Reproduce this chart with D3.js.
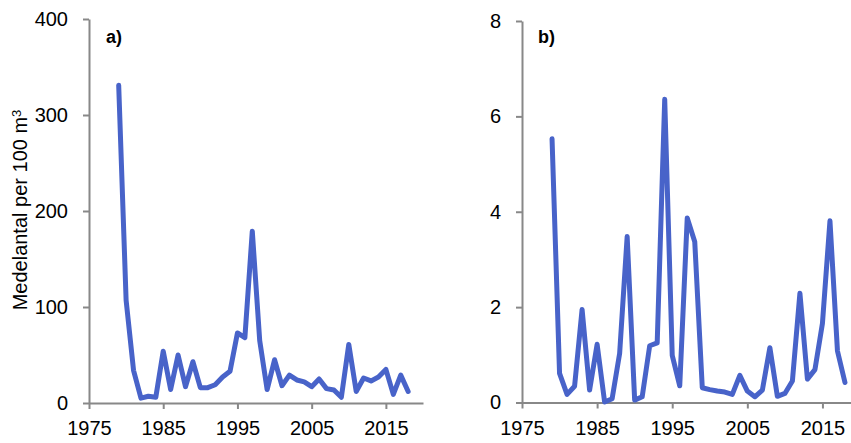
<!DOCTYPE html>
<html>
<head>
<meta charset="utf-8">
<script src="https://cdn.jsdelivr.net/npm/d3@7"></script>
<style>
  html, body { margin: 0; padding: 0; background: #ffffff; }
  svg { display: block; }
  text { font-family: "Liberation Sans", Arial, sans-serif; fill: #000; }
</style>
</head>
<body>
<svg id="chart" width="851" height="443"></svg>
<script>
// Years of observation (shared by both panels)
const years = [
  1979, 1980, 1981, 1982, 1983, 1984, 1985, 1986, 1987, 1988,
  1989, 1990, 1991, 1992, 1993, 1994, 1995, 1996, 1997, 1998,
  1999, 2000, 2001, 2002, 2003, 2004, 2005, 2006, 2007, 2008,
  2009, 2010, 2011, 2012, 2013, 2014, 2015, 2016, 2017, 2018
];

// Panel a) mean count per 100 m³
const seriesA = [
  331, 107, 34, 5, 7, 6, 54, 14, 50, 17,
  43, 16, 16, 19, 27, 33, 73, 68, 179, 65,
  14, 45, 18, 29, 24, 22, 17, 25, 15, 13.5,
  6, 61, 12, 26, 23, 27, 35, 9, 29, 12
];

// Panel b) mean count per 100 m³
const seriesB = [
  5.53, 0.61, 0.17, 0.34, 1.95, 0.26, 1.22, 0.01, 0.08, 1.03,
  3.48, 0.05, 0.12, 1.19, 1.25, 6.36, 0.99, 0.35, 3.87, 3.37,
  0.31, 0.27, 0.24, 0.22, 0.17, 0.57, 0.24, 0.12, 0.26, 1.15,
  0.13, 0.19, 0.45, 2.29, 0.49, 0.69, 1.66, 3.81, 1.08, 0.42
];

const xTicks = [1975, 1985, 1995, 2005, 2015];
const yTicksA = [0, 100, 200, 300, 400];
const yTicksB = [0, 2, 4, 6, 8];
const yTitle = "Medelantal per 100 m";

const svg = d3.select("#chart");
const axisColor = "#888888";
const lineColor = "#4863C9";
const fontSize = 20;

const panels = [
  { label: "a)", values: seriesA, yTicks: yTicksA, yMax: 400,
    x0: 89, x1: 423, yTop: 19, yBottom: 403, labelX: 106 },
  { label: "b)", values: seriesB, yTicks: yTicksB, yMax: 8,
    x0: 522, x1: 860, yTop: 21, yBottom: 402.5, labelX: 538 }
];

panels.forEach(p => {
  const x = d3.scaleLinear().domain([1975, 2020]).range([p.x0, p.x1]);
  const y = d3.scaleLinear().domain([0, p.yMax]).range([p.yBottom, p.yTop]);

  const g = svg.append("g");

  // y axis
  const yAxis = g.append("g")
    .attr("transform", `translate(${p.x0},0)`)
    .call(d3.axisLeft(y).tickValues(p.yTicks).tickSize(6).tickSizeOuter(0).tickPadding(15));
  // x axis
  const xAxis = g.append("g")
    .attr("transform", `translate(0,${p.yBottom})`)
    .call(d3.axisBottom(x).tickValues(xTicks).tickFormat(d3.format("d"))
      .tickSize(6).tickSizeOuter(0).tickPadding(12));

  [yAxis, xAxis].forEach(ax => {
    ax.select(".domain").attr("stroke", axisColor).attr("stroke-width", 2);
    ax.selectAll(".tick line").attr("stroke", axisColor).attr("stroke-width", 2);
    ax.selectAll(".tick text")
      .attr("fill", "#000")
      .style("font-family", "'Liberation Sans', Arial, sans-serif")
      .style("font-size", fontSize + "px");
  });

  // data line
  const line = d3.line()
    .x((d, i) => x(years[i]))
    .y(d => y(d));
  g.append("path")
    .datum(p.values)
    .attr("d", line)
    .attr("fill", "none")
    .attr("stroke", lineColor)
    .attr("stroke-width", 5)
    .attr("stroke-linejoin", "round")
    .attr("stroke-linecap", "round");

  // panel label
  g.append("text")
    .attr("x", p.labelX)
    .attr("y", 43)
    .style("font-size", "18px")
    .style("font-weight", "bold")
    .text(p.label);
});

// y-axis title with superscript
const title = svg.append("text")
  .attr("transform", "translate(27,210) rotate(-90)")
  .attr("text-anchor", "middle")
  .style("font-size", fontSize + "px");
title.append("tspan").text(yTitle);
title.append("tspan")
  .attr("dy", "-0.45em")
  .style("font-size", "13px")
  .text("3");
</script>
</body>
</html>
